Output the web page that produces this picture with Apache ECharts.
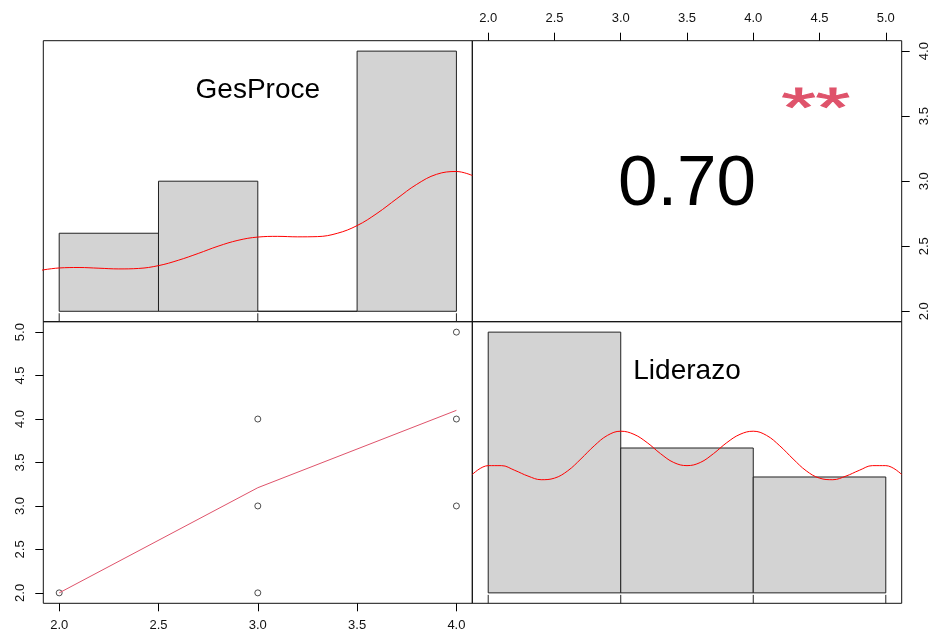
<!DOCTYPE html>
<html><head><meta charset="utf-8">
<script src="https://cdn.jsdelivr.net/npm/echarts@6/dist/echarts.min.js"></script>
<style>html,body{margin:0;padding:0;background:#fff}#c{width:934px;height:638px}</style>
</head><body><div id="c"></div>
<script>
// ---- data ----
const varNames = ['GesProce', 'Liderazo'];
const gesBinStart = [2.0, 2.5, 3.0, 3.5];
const gesBinEnd   = [2.5, 3.0, 3.5, 4.0];
const gesDensity  = [0.3333, 0.5556, 0, 1.1111];
const lidBinStart = [2, 3, 4];
const lidBinEnd   = [3, 4, 5];
const lidDensity  = [0.5, 0.2778, 0.2222];
const gesKdeX = [1.88,2.0,2.1,2.2,2.3,2.4,2.5,2.6,2.7,2.8,2.9,3.0,3.1,3.2,3.3,3.4,3.5,3.6,3.7,3.8,3.9,4.0,4.08];
const gesKdeY = [0.171,0.185,0.187,0.184,0.181,0.183,0.195,0.218,0.247,0.278,0.303,0.317,0.320,0.318,0.319,0.333,0.366,0.418,0.481,0.542,0.585,0.597,0.580];
const lidKdeX = [1.88,2.0,2.1,2.2,2.3,2.4,2.5,2.6,2.7,2.8,2.9,3.0,3.1,3.2,3.3,3.4,3.5,3.6,3.7,3.8,3.9,4.0,4.1,4.2,4.3,4.4,4.5,4.6,4.7,4.8,4.9,5.0,5.12];
const lidKdeY = [0.227,0.244,0.244,0.235,0.224,0.217,0.220,0.234,0.257,0.282,0.302,0.310,0.304,0.288,0.267,0.250,0.244,0.250,0.267,0.288,0.304,0.310,0.302,0.282,0.257,0.234,0.220,0.217,0.224,0.235,0.244,0.244,0.227];
const gesRug = [2, 3, 4];
const lidRug = [2, 3, 4, 5];
const scatterX = [2, 3, 3, 3, 4, 4, 4];
const scatterY = [2, 2, 3, 4, 3, 4, 5];
const smoothX = [2, 3, 4];
const smoothY = [2.0, 3.21, 4.10];
const corrText = '0.70';
const corrStars = '**';
const gesTicks = [2.0, 2.5, 3.0, 3.5, 4.0];
const lidTicks = [2.0, 2.5, 3.0, 3.5, 4.0, 4.5, 5.0];

// ---- layout ----
const L = 43.3, M = 472.3, R = 901.7, T = 40.7, H = 321.7, B = 603.3;
const FONT = "'Liberation Sans', Arial, sans-serif";
const zip = (a, b) => a.map((v, i) => [v, b[i]]);

function histItem(params, api) {
  const p0 = api.coord([api.value(0), 0]);
  const p1 = api.coord([api.value(1), api.value(2)]);
  return {
    type: 'rect',
    shape: { x: p0[0], y: p1[1], width: p1[0] - p0[0], height: p0[1] - p1[1] },
    style: { fill: '#D3D3D3', stroke: '#222', lineWidth: 1 }
  };
}
function rugItem(params, api) {
  const cs = params.coordSys;
  const px = api.coord([api.value(0), 0])[0];
  const bottom = cs.y + cs.height;
  return {
    type: 'line',
    shape: { x1: px, y1: bottom, x2: px, y2: bottom - cs.height * 0.03 },
    style: { stroke: '#222', lineWidth: 1 }
  };
}

const visAxisCommon = (ticks) => ({
  type: 'value',
  splitLine: { show: false },
  axisLine: { show: false },
  axisTick: { show: true, inside: false, length: 8, customValues: ticks, lineStyle: { color: '#000', width: 1 } },
  axisLabel: { customValues: ticks, formatter: v => Number(v).toFixed(1), color: '#111', fontSize: 13, fontFamily: FONT, margin: 16 }
});
const hiddenAxis = (min, max, gi) => ({ type: 'value', min, max, gridIndex: gi, show: false, splitLine: { show: false } });

const gridBase = { show: true, borderColor: '#111', borderWidth: 1, backgroundColor: 'transparent' };

const option = {
  animation: false,
  backgroundColor: '#fff',
  grid: [
    Object.assign({ left: L, top: T, width: M - L, height: H - T }, gridBase),
    Object.assign({ left: M, top: T, width: R - M, height: H - T }, gridBase),
    Object.assign({ left: L, top: H, width: M - L, height: B - H }, gridBase),
    Object.assign({ left: M, top: H, width: R - M, height: B - H }, gridBase)
  ],
  xAxis: [
    hiddenAxis(1.92, 4.08, 0),
    Object.assign(visAxisCommon(lidTicks), { gridIndex: 1, min: 1.88, max: 5.12, position: 'top' }),
    Object.assign(visAxisCommon(gesTicks), { gridIndex: 2, min: 1.92, max: 4.08, position: 'bottom' }),
    hiddenAxis(1.88, 5.12, 3)
  ],
  yAxis: [
    hiddenAxis(-0.04444, 1.15556, 0),
    (() => { const a = Object.assign(visAxisCommon(gesTicks), { gridIndex: 1, min: 1.92, max: 4.08, position: 'right' }); a.axisLabel.rotate = 90; return a; })(),
    (() => { const a = Object.assign(visAxisCommon(lidTicks), { gridIndex: 2, min: 1.88, max: 5.12, position: 'left' }); a.axisLabel.rotate = 90; return a; })(),
    hiddenAxis(-0.02, 0.52, 3)
  ],
  series: [
    { type: 'custom', xAxisIndex: 0, yAxisIndex: 0, renderItem: histItem, clip: false,
      encode: { x: [0, 1], y: 2 },
      data: gesBinStart.map((s, i) => [s, gesBinEnd[i], gesDensity[i]]) },
    { type: 'custom', xAxisIndex: 0, yAxisIndex: 0, renderItem: rugItem, encode: { x: 0 },
      data: gesRug.map(v => [v]) },
    { type: 'line', xAxisIndex: 0, yAxisIndex: 0, data: zip(gesKdeX, gesKdeY), smooth: 0.4,
      showSymbol: false, lineStyle: { color: '#FF0000', width: 1 }, z: 5 },
    { type: 'custom', xAxisIndex: 3, yAxisIndex: 3, renderItem: histItem, clip: false,
      encode: { x: [0, 1], y: 2 },
      data: lidBinStart.map((s, i) => [s, lidBinEnd[i], lidDensity[i]]) },
    { type: 'custom', xAxisIndex: 3, yAxisIndex: 3, renderItem: rugItem, encode: { x: 0 },
      data: lidRug.map(v => [v]) },
    { type: 'line', xAxisIndex: 3, yAxisIndex: 3, data: zip(lidKdeX, lidKdeY), smooth: 0.4,
      showSymbol: false, lineStyle: { color: '#FF0000', width: 1 }, z: 5 },
    { type: 'scatter', xAxisIndex: 2, yAxisIndex: 2, data: zip(scatterX, scatterY), symbol: 'circle', symbolSize: 6,
      itemStyle: { color: 'rgba(0,0,0,0)', borderColor: '#222', borderWidth: 1 } },
    { type: 'line', xAxisIndex: 2, yAxisIndex: 2, data: zip(smoothX, smoothY), showSymbol: false,
      lineStyle: { color: '#DF536B', width: 1 } }
  ],
  graphic: [
    { type: 'text', x: (L + M) / 2, y: 89.8, style: { text: varNames[0], fontSize: 28, fontFamily: FONT, fill: '#000', textAlign: 'center', textVerticalAlign: 'middle' } },
    { type: 'text', x: (M + R) / 2, y: 371.3, style: { text: varNames[1], fontSize: 28, fontFamily: FONT, fill: '#000', textAlign: 'center', textVerticalAlign: 'middle' } },
    { type: 'text', x: (M + R) / 2, y: 185, style: { text: corrText, fontSize: 71, fontFamily: FONT, fill: '#000', textAlign: 'center', textVerticalAlign: 'middle' } },
    { type: 'text', x: M + 0.8 * (R - M), y: 110, scaleY: 0.64, style: { text: corrStars, fontSize: 88, fontFamily: FONT, fill: '#DF536B', stroke: '#DF536B', lineWidth: 1.5, textAlign: 'center', textVerticalAlign: 'middle' } }
  ]
};
const chart = echarts.init(document.getElementById('c'), null, { renderer: 'canvas' });
chart.setOption(option);
</script></body></html>
